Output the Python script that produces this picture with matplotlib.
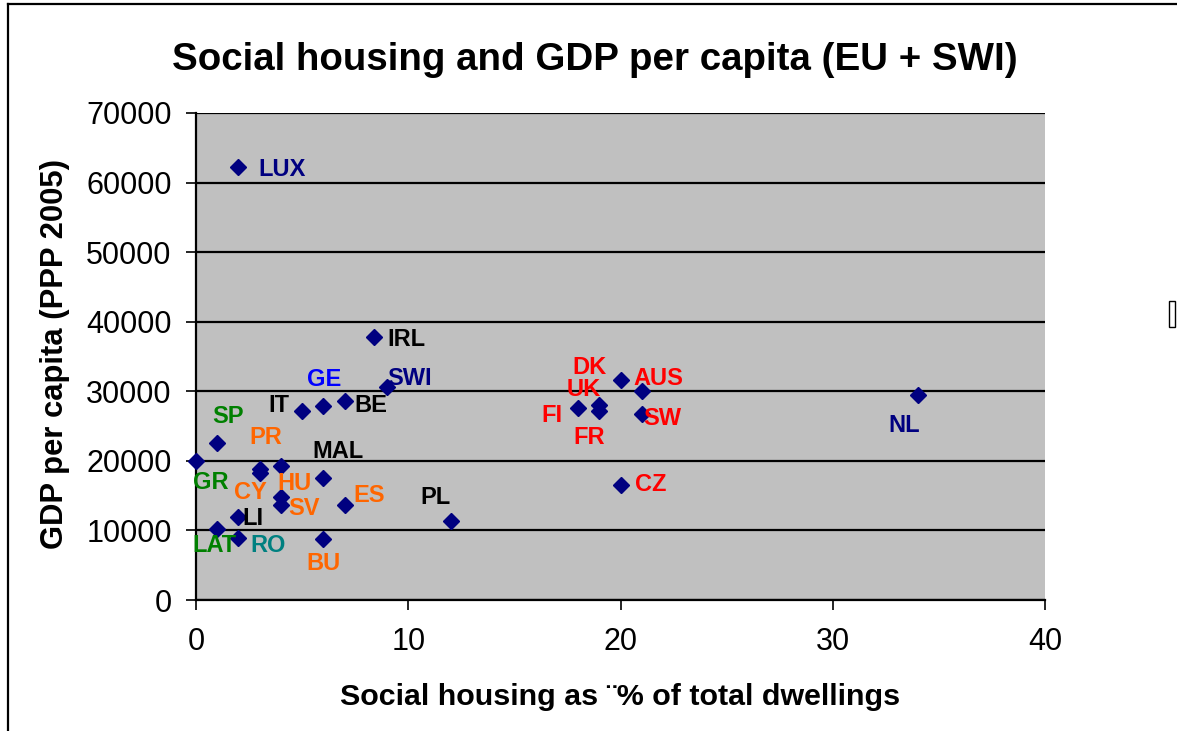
import matplotlib
matplotlib.use("Agg")
import matplotlib.pyplot as plt
from matplotlib.lines import Line2D
from matplotlib.patches import Rectangle

plt.rcParams['font.family'] = ['Liberation Sans', 'DejaVu Sans']

# Data
countries = ["LUX", "IRL", "SWI", "BE", "GE", "IT", "SP", "GR", "", "PR", "CY",
             "MAL", "HU", "SV", "ES", "PL", "LI", "LAT", "RO", "BU",
             "DK", "AUS", "UK", "FR", "FI", "SW", "CZ", "NL"]
social_housing = [2, 8.4, 9, 7, 6, 5, 1, 0, 3, 4, 3,
                  6, 4, 4, 7, 12, 2, 1, 2, 6,
                  20, 21, 19, 19, 18, 21, 20, 34]
gdp_per_capita = [62300, 37800, 30600, 28600, 27900, 27200, 22500, 20000, 18900, 19200, 18200,
                  17600, 14850, 13650, 13600, 11400, 11900, 10250, 8960, 8700,
                  31600, 30100, 28100, 27100, 27600, 26700, 16500, 29500]
label_colors = ["#000080", "black", "#000080", "black", "#0000FF", "black", "#008000", "#008000", "black",
                "#FF6600", "#FF6600", "black", "#FF6600", "#FF6600", "#FF6600", "black", "black",
                "#008000", "#008080", "#FF6600", "red", "red", "red", "red", "red", "red", "red", "#000080"]
label_offsets = [(44, -3), (32, -2), (23, 9), (26, -4), (1, 26), (-23, 5), (11, 27), (15, -22), (0, 0),
                 (-15, 29), (-9, -19), (15, 26), (14, 13), (23, -3), (25, 10), (-15, 23), (14, -1),
                 (-3, -17), (30, -8), (0, -24), (-31, 13), (17, 12), (-16, 15), (-10, -26), (-26, -8),
                 (21, -4), (30, 1), (-13, -31)]

x_ticks = [0, 10, 20, 30, 40]
y_ticks = [0, 10000, 20000, 30000, 40000, 50000, 60000, 70000]

W, H = 1177, 731
fig = plt.figure(figsize=(W / 100, H / 100), dpi=100)
fig.patch.set_facecolor("white")
ax = fig.add_axes([196 / W, 1 - 600 / H, (1045 - 196) / W, (600 - 113) / H])
ax.set_facecolor("#C0C0C0")

ax.set_xlim(0, 40)
ax.set_ylim(0, 70000)
ax.set_xticks(x_ticks)
ax.set_yticks(y_ticks)
ax.set_xticklabels([str(t) for t in x_ticks])
ax.set_yticklabels([str(t) for t in y_ticks])

ax.grid(axis='y', color='black', linewidth=1.6)
ax.set_axisbelow(True)
for s in ['top', 'right']:
    ax.spines[s].set_visible(False)
for s in ['left', 'bottom']:
    ax.spines[s].set_linewidth(1.6)
    ax.spines[s].set_color('black')
ax.tick_params(axis='both', direction='out', length=7.5, width=1.2, labelsize=22, colors='black')
ax.tick_params(axis='y', pad=10)
ax.tick_params(axis='x', pad=12)

ax.plot(social_housing, gdp_per_capita, linestyle='none', marker='D',
        markersize=8, color='#000080', clip_on=False, zorder=3)

for c, x, y, col, off in zip(countries, social_housing, gdp_per_capita, label_colors, label_offsets):
    if c:
        ax.annotate(c, (x, y), xytext=off, textcoords='offset pixels',
                    ha='center', va='center', fontsize=17, fontweight='bold', color=col, zorder=4)

fig.text(595 / W, 1 - 60 / H, "Social housing and GDP per capita (EU + SWI)",
         ha='center', va='center', fontsize=27.7, fontweight='bold')
fig.text(620 / W, 1 - 697 / H, "Social housing as \u00a8% of total dwellings",
         ha='center', va='center', fontsize=21.9, fontweight='bold')
fig.text(55 / W, 1 - 354 / H, "GDP per capita (PPP 2005)",
         ha='center', va='center', rotation=90, fontsize=22.3, fontweight='bold')

# outer frame (left and top edges)
fig.add_artist(Line2D([7.5 / W, 7.5 / W], [0, 1 - 3.5 / H], color='black', linewidth=1.6))
fig.add_artist(Line2D([7.5 / W, 1], [1 - 3.5 / H, 1 - 3.5 / H], color='black', linewidth=1.6))
# missing-glyph box at right edge
fig.add_artist(Rectangle((1169 / W, 1 - 327 / H), 6 / W, 26 / H, transform=fig.transFigure,
                         facecolor='none', edgecolor='black', linewidth=1.0))

fig.savefig("out.png", dpi=100)
